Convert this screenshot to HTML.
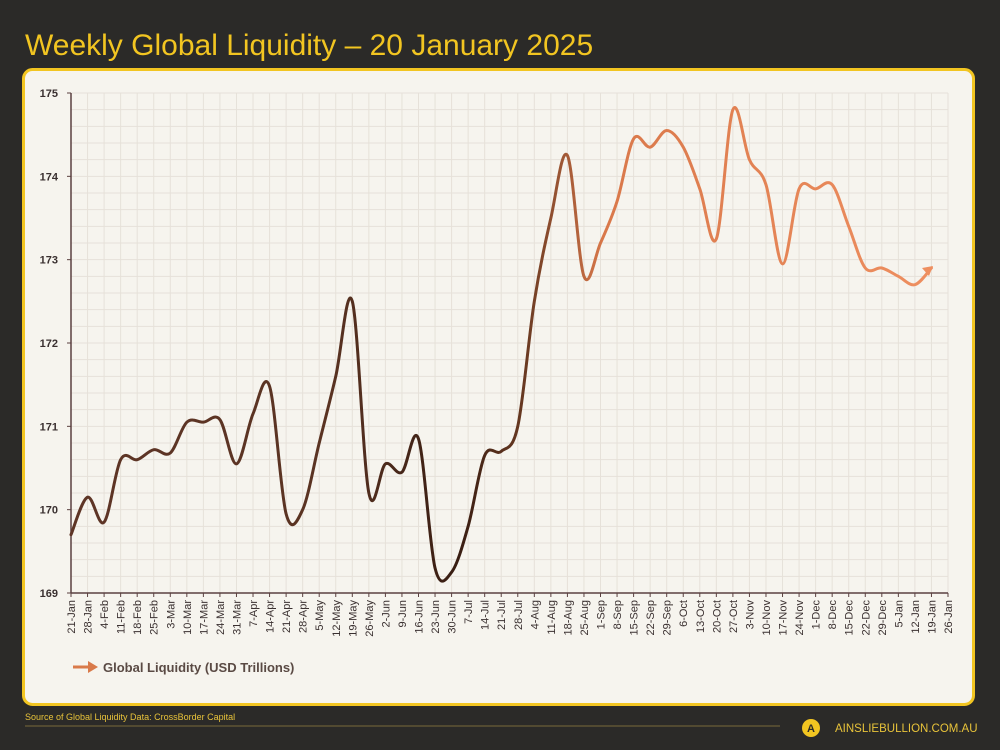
<!DOCTYPE html>
<html><head><meta charset="utf-8"><style>
body{margin:0;width:1000px;height:750px;background:#2b2a28;overflow:hidden;font-family:"Liberation Sans",sans-serif}
</style></head><body>
<svg id="s" width="1000" height="750" xmlns="http://www.w3.org/2000/svg" style="position:absolute;left:0;top:0">
<defs>
<linearGradient id="g" x1="71" y1="0" x2="930" y2="0" gradientUnits="userSpaceOnUse">
<stop offset="0" stop-color="#5e3526"/><stop offset="0.3" stop-color="#5a3322"/>
<stop offset="0.45" stop-color="#381d12"/><stop offset="0.53" stop-color="#6a3a22"/>
<stop offset="0.62" stop-color="#d9784a"/><stop offset="1" stop-color="#ee8f60"/>
</linearGradient>
</defs>
<text x="25" y="55" fill="#f2c521" font-size="30" font-family="Liberation Sans">Weekly Global Liquidity – 20 January 2025</text>
<rect x="23.5" y="69.5" width="950" height="635" rx="9" fill="#f6f4ee" stroke="#f2c521" stroke-width="3"/>
<g id="grid"></g>
<g id="ax"></g>
<path id="line" fill="none" stroke="url(#g)" stroke-width="3" stroke-linecap="round"/>
<polygon points="933,266 922,268 929,276" fill="#ee8f60"/>
<line x1="73" y1="667" x2="90" y2="667" stroke="#d97a4a" stroke-width="3"/>
<polygon points="98,667 88,661 88,673" fill="#d97a4a"/>
<text x="103" y="672" fill="#5a4a44" font-size="13" font-weight="bold">Global Liquidity (USD Trillions)</text>
<text x="25" y="720" fill="#e8c33a" font-size="9">Source of Global Liquidity Data: CrossBorder Capital</text>
<line x1="25" y1="726" x2="780" y2="726" stroke="#7a6a3a" stroke-width="1"/>
<circle cx="811" cy="728" r="9" fill="#f2c521"/>
<text x="811" y="732" fill="#2b2a28" font-size="11" font-weight="bold" text-anchor="middle">A</text>
<text x="835" y="732" fill="#e8c33a" font-size="11.5">AINSLIEBULLION.COM.AU</text>
</svg>
<script>
var x0=71,dx=(948-71)/53,yv=function(v){return 593-(v-169)*83.333};
var ns="http://www.w3.org/2000/svg",G=document.getElementById('grid'),A=document.getElementById('ax');
function el(p,t,a,txt){var e=document.createElementNS(ns,t);for(var k in a)e.setAttribute(k,a[k]);if(txt)e.textContent=txt;p.appendChild(e);return e}
for(var i=0;i<=53;i++){var x=x0+i*dx;el(G,'line',{x1:x,x2:x,y1:93,y2:593,stroke:'#e6e1d9','stroke-width':1});}
for(var j=0;j<=30;j++){var y=93+j*500/30;el(G,'line',{x1:71,x2:948,y1:y,y2:y,stroke:'#e6e1d9','stroke-width':1});}
el(A,'line',{x1:71,x2:71,y1:93,y2:593,stroke:'#5a4040','stroke-width':1.5});
el(A,'line',{x1:71,x2:948,y1:593,y2:593,stroke:'#5a4040','stroke-width':1.5});
for(var v=169;v<=175;v++){var y=yv(v);el(A,'line',{x1:67,x2:71,y1:y,y2:y,stroke:'#5a4040'});el(A,'text',{x:58,y:y+4,'font-size':11,'font-weight':'bold','text-anchor':'end',fill:'#3a3030'},v);}
var labs="21-Jan,28-Jan,4-Feb,11-Feb,18-Feb,25-Feb,3-Mar,10-Mar,17-Mar,24-Mar,31-Mar,7-Apr,14-Apr,21-Apr,28-Apr,5-May,12-May,19-May,26-May,2-Jun,9-Jun,16-Jun,23-Jun,30-Jun,7-Jul,14-Jul,21-Jul,28-Jul,4-Aug,11-Aug,18-Aug,25-Aug,1-Sep,8-Sep,15-Sep,22-Sep,29-Sep,6-Oct,13-Oct,20-Oct,27-Oct,3-Nov,10-Nov,17-Nov,24-Nov,1-Dec,8-Dec,15-Dec,22-Dec,29-Dec,5-Jan,12-Jan,19-Jan,26-Jan".split(',');
labs.forEach(function(l,i){var x=x0+i*dx;el(A,'line',{x1:x,x2:x,y1:593,y2:597,stroke:'#5a4040'});el(A,'text',{transform:'translate('+(x+4)+',600) rotate(-90)','font-size':11,'text-anchor':'end',fill:'#3a3030'},l);});
var d=[169.7,170.15,169.85,170.6,170.6,170.72,170.68,171.05,171.05,171.08,170.55,171.15,171.48,169.95,170.0,170.8,171.6,172.5,170.2,170.55,170.45,170.85,169.3,169.25,169.8,170.65,170.7,171.0,172.5,173.5,174.25,172.8,173.2,173.7,174.45,174.35,174.55,174.35,173.85,173.25,174.8,174.2,173.9,172.95,173.85,173.85,173.9,173.4,172.9,172.9,172.8,172.7,172.9];
var P=d.map(function(v,i){return [x0+i*dx,yv(v)]});
var s='M'+P[0][0]+','+P[0][1];
for(var i=0;i<P.length-1;i++){var p0=P[Math.max(i-1,0)],p1=P[i],p2=P[i+1],p3=P[Math.min(i+2,P.length-1)];
s+=' C'+(p1[0]+(p2[0]-p0[0])/6)+','+(p1[1]+(p2[1]-p0[1])/6)+' '+(p2[0]-(p3[0]-p1[0])/6)+','+(p2[1]-(p3[1]-p1[1])/6)+' '+p2[0]+','+p2[1];}
document.getElementById('line').setAttribute('d',s);
</script>
</body></html>
